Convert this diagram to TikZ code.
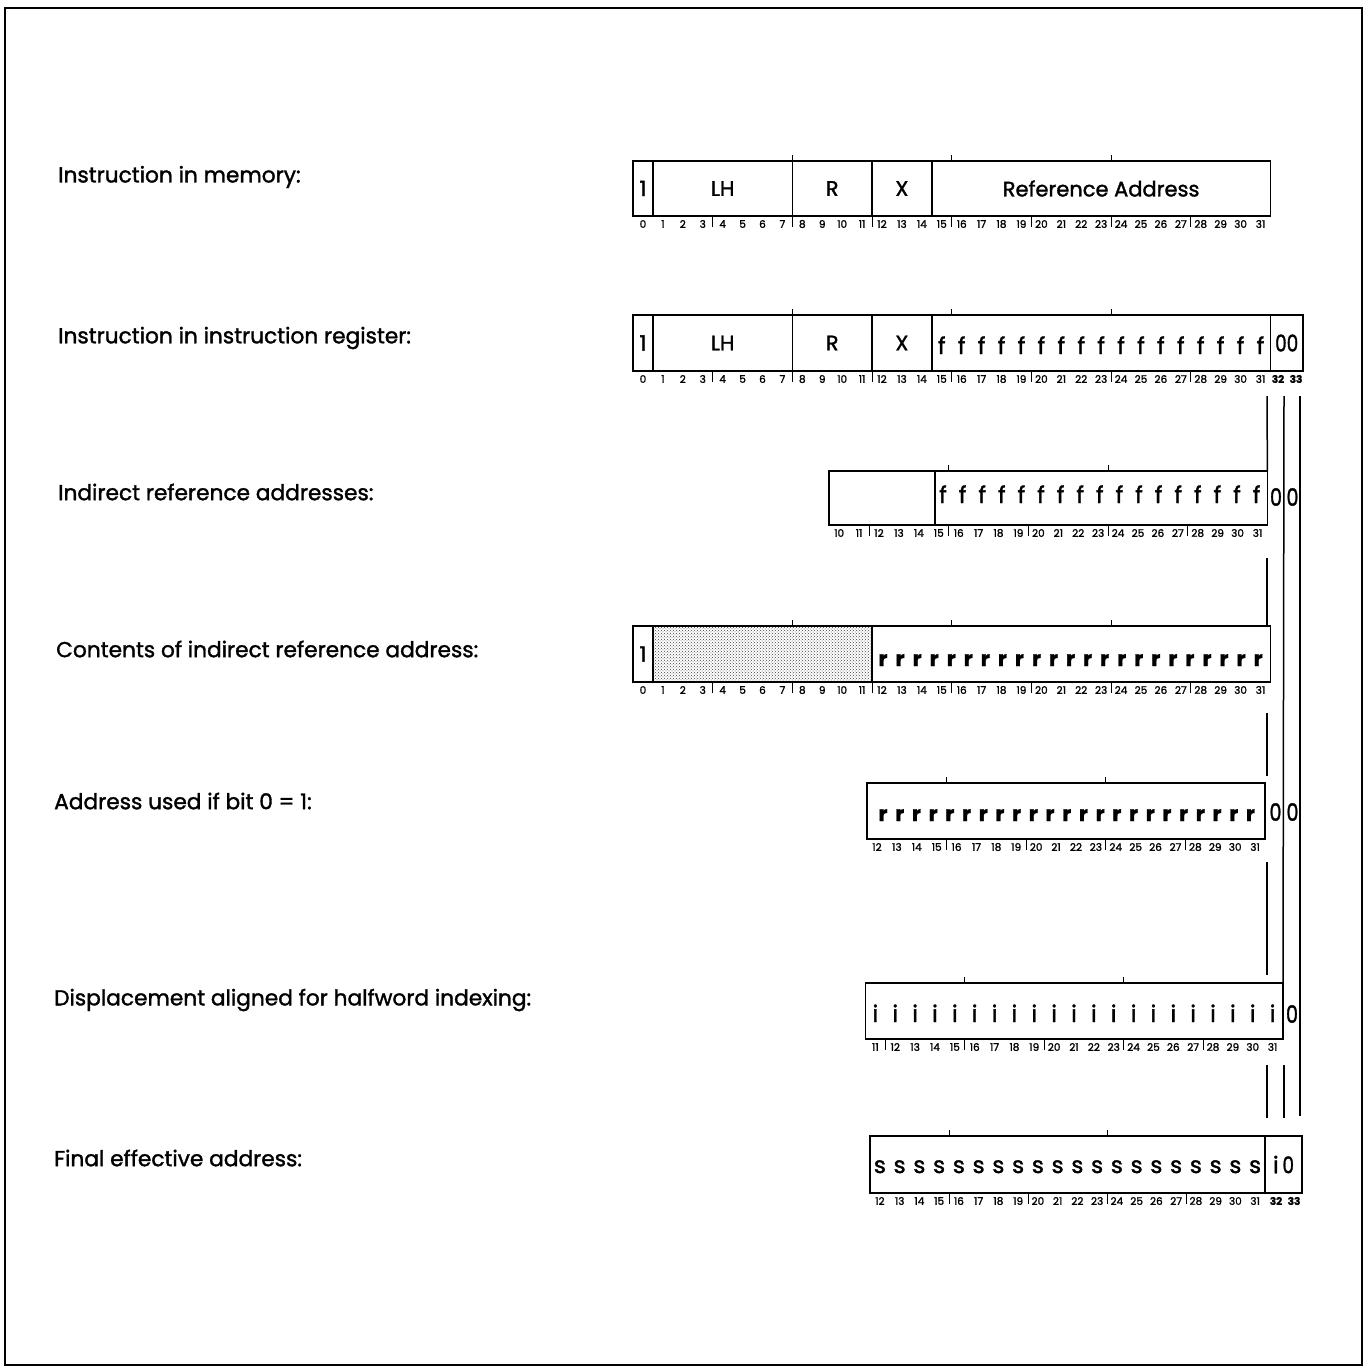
\documentclass[tikz,border=0pt]{standalone}
\usepackage{fontspec}
\setmainfont{Poppins}[FakeBold=1.5]
\usetikzlibrary{patterns}
\tikzset{
  frameline/.style={line width=1.6pt},
  fld/.style={draw, line width=1.5pt, inner sep=0pt, outer sep=0pt, font=\fontsize{21}{24}\selectfont},
  tickline/.style={line width=0.9pt},
  vline/.style={line width=1.5pt},
  lbl/.style={anchor=west, inner sep=0pt, font=\fontsize{21.7}{24}\selectfont},
  bign/.style={inner sep=0pt, font=\fontsize{24}{26}\selectfont},
  letr/.style={inner sep=0pt, anchor=base, font=\fontsize{23}{24}\selectfont},
  letrb/.style={inner sep=0pt, anchor=base, font=\bfseries\fontsize{21}{24}\selectfont},
  bitn/.style={inner sep=0pt, font=\fontsize{10.5}{11}\selectfont},
  bitnb/.style={inner sep=0pt, font=\bfseries\fontsize{10.5}{11}\selectfont},
}
\newcommand\nzero{\scalebox{0.8}[1]{0}}
% #1 name, #2 x left, #3 x right, #4 y top, #5 y bottom, #6 text
\newcommand\field[6]{\node[fld, anchor=north west, minimum width={#3-#2}, minimum height={#5-#4}] (#1) at (#2,#4) {#6};}
% #1 prefix, #2 origin, #3 bit width, #4 first, #5 last, #6 box top, #7 box bottom
\newcommand\bitscale[7]{%
  \foreach \k in {#4,...,#5}{
    \node[bitn] (#1\k) at ({#2+(\k+0.5)*#3}, #7+8) {\k};
  }
  \foreach \k in {4,8,...,28}{
    \ifnum\k>#4\relax \draw[tickline] ({#2+\k*#3},#7) -- ++(0,11);\fi
  }
  \foreach \k in {8,16,24}{
    \ifnum\k>#4\relax \draw[tickline] ({#2+\k*#3},#6) -- ++(0,-6);\fi
  }
}
\begin{document}
\begin{tikzpicture}[x=1pt,y=-1pt]
\useasboundingbox (0,0) rectangle (1365,1370);
\draw[frameline] (5,8) rectangle (1362,1365);

% left labels
\node[lbl] (t1) at (58,177) {Instruction in memory:};
\node[lbl] (t2) at (58,338) {Instruction in instruction register:};
\node[lbl] (t3) at (58,492) {Indirect reference addresses:};
\node[lbl] (t4) at (56,649) {Contents of indirect reference address:};
\node[lbl] (t5) at (54,801) {Address used if bit 0 = 1:};
\node[lbl] (t6) at (54,1000) {Displacement aligned for halfword indexing:};
\node[lbl] (t7) at (54,1158) {Final effective address:};

% row 1: instruction in memory
\field{m0}{633}{652.9}{161}{216}{1}
\field{mLH}{652.9}{792.4}{161}{216}{LH}
\field{mR}{792.4}{872}{161}{216}{R}
\field{mX}{872}{931.8}{161}{216}{X}
\field{mRA}{931.8}{1270.4}{161}{216}{Reference Address}
\bitscale{ma}{633}{19.92}{0}{31}{161}{216}

% row 2: instruction register
\field{r0}{633}{652.9}{315}{371}{1}
\field{rLH}{652.9}{792.4}{315}{371}{LH}
\field{rR}{792.4}{872}{315}{371}{R}
\field{rX}{872}{931.8}{315}{371}{X}
\field{rF}{931.8}{1270.4}{315}{371}{}
\node[fld, anchor=north west, minimum width={1303-1270.4}, minimum height={371-315}, font=\fontsize{23}{24}\selectfont] (rZ) at (1270.4,315) {\nzero\nzero};
\foreach \k in {15,...,31} \node[letr] (rf\k) at ({633+(\k+0.5)*19.92},354) {f};
\bitscale{rb}{633}{19.92}{0}{31}{315}{371}
\node[bitnb] (rb32) at (1278,379) {32};
\node[bitnb] (rb33) at (1296,379) {33};

% row 3: indirect reference addresses
\field{iA}{829.2}{935}{471}{525}{}
\field{iF}{935}{1267.4}{471}{525}{}
\foreach \k in {0,...,16} \node[letr] (if\k) at ({943+\k*19.6},503) {f};
\node[bign] (iz32) at (1276,497) {\nzero};
\node[bign] (iz33) at (1292.5,497) {\nzero};
\bitscale{ib}{630}{19.92}{10}{31}{471}{525}

% row 4: contents of indirect reference address
\field{c0}{633}{652.9}{626}{682}{1}
\node[fld, anchor=north west, minimum width={872-652.9}, minimum height={682-626}, pattern=crosshatch dots, pattern color=black!75] (cS) at (652.9,626) {};
\field{cR}{872}{1270.4}{626}{682}{}
\foreach \k in {0,...,22} \node[letrb] (cr\k) at ({883+\k*17.05},666) {r};
\bitscale{cb}{633}{19.92}{0}{31}{626}{682}

% row 5: address used if bit 0 = 1
\field{aR}{867}{1265}{783}{839}{}
\foreach \k in {0,...,22} \node[letrb] (ar\k) at ({883+\k*16.7},821) {r};
\node[bign] (az32) at (1275.5,812) {\nzero};
\node[bign] (az33) at (1292.5,812) {\nzero};
\bitscale{ab}{628.2}{19.9}{12}{31}{783}{839}

% row 6: displacement
\field{dI}{865.5}{1283}{983}{1039}{}
\foreach \k in {11,...,31} \node[letr] (di\k) at ({647+(\k+0.5)*19.86},1022) {i};
\node[bign] (dz33) at (1292,1014) {\nzero};
\bitscale{db}{647}{19.86}{11}{31}{983}{1039}

% row 7: final effective address
\field{fS}{870}{1265}{1136}{1193}{}
\node[fld, anchor=north west, minimum width={1302-1265}, minimum height={1193-1136}, font=\fontsize{23}{24}\selectfont] (fZ) at (1265,1136) {i\,\nzero};
\foreach \k in {12,...,31} \node[letr] (fs\k) at ({633+(\k+0.5)*19.75},1173) {s};
\bitscale{fb}{633}{19.75}{12}{31}{1136}{1193}
\node[bitnb] (fb32) at (1276,1201) {32};
\node[bitnb] (fb33) at (1294,1201) {33};

% vertical guide lines
\coordinate (p1a) at (1267,396);  \coordinate (p1b) at (iF.north east);
\coordinate (p2a) at (1267,558);  \coordinate (p2b) at (1267,626);
\coordinate (p3a) at (1267,713);  \coordinate (p3b) at (1267,776);
\coordinate (p4a) at (1267,862);  \coordinate (p4b) at (1267,975);
\coordinate (p5a) at (1267,1065); \coordinate (p5b) at (1267,1118);
\coordinate (q1a) at (1284,396);  \coordinate (q1b) at (dI.north east);
\coordinate (q2a) at (1284,1065); \coordinate (q2b) at (1284,1118);
\coordinate (s1a) at (1300,396);  \coordinate (s1b) at (1300,1116);
\draw[vline] (p1a) -- (p1b);
\draw[vline] (p2a) -- (p2b);
\draw[vline] (p3a) -- (p3b);
\draw[vline] (p4a) -- (p4b);
\draw[vline] (p5a) -- (p5b);
\draw[vline] (q1a) -- (q1b);
\draw[vline] (q2a) -- (q2b);
\draw[vline] (s1a) -- (s1b);
\end{tikzpicture}
\end{document}
